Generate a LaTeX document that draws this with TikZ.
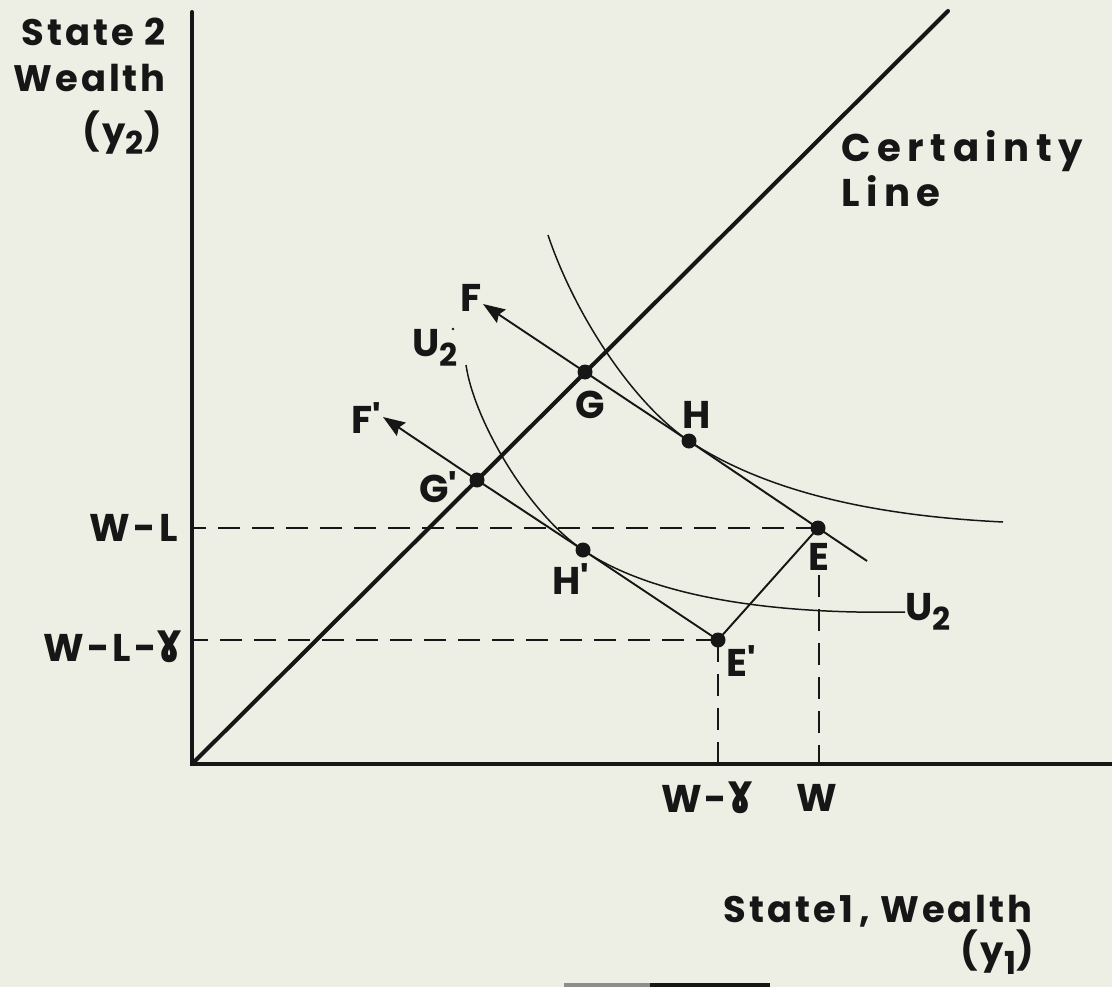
\documentclass[tikz,border=0pt]{standalone}
\usepackage{fontspec}
\usepackage{graphicx}
\setmainfont{Poppins}[LetterSpace=8]
\newfontfamily\dv{DejaVu Sans}
\usetikzlibrary{arrows.meta}
\definecolor{paper}{RGB}{237,239,228}
\definecolor{ink}{RGB}{22,22,22}
\newcommand{\gam}{\raisebox{0pt}{\scalebox{1.05}[1.45]{\dv\bfseries ɤ}}}
\newcommand{\prm}{\textquotesingle}
\newcommand{\sbs}[1]{\raisebox{-0.28em}{\fontsize{18}{18}\selectfont #1}}
\begin{document}
\begin{tikzpicture}[x=0.02cm,y=-0.02cm,
  axisline/.style={line width=2.3pt, draw=ink, line cap=round},
  budget/.style={line width=1.1pt, draw=ink},
  icurve/.style={line width=0.85pt, draw=ink},
  guide/.style={line width=0.9pt, draw=ink, dash pattern=on 0.44cm off 0.24cm},
  dotpt/.style={circle, fill=ink, inner sep=0pt, minimum size=0.3cm},
  lbl/.style={font=\fontsize{22}{26}\selectfont\bfseries, inner sep=0pt, text=ink},
  axlbl/.style={font=\fontsize{21}{26}\selectfont\bfseries, inner sep=0pt, text=ink},
  arr/.style={-{Stealth[length=0.44cm,width=0.32cm,inset=0.06cm]}}
]
\fill[paper] (0,0) rectangle (1112,987);
\useasboundingbox (0,0) rectangle (1112,987);

% axes
\coordinate (O) at (192,764);
\coordinate (ytop) at (192,12);
\coordinate (xend) at (1112,764);
\coordinate (cend) at (948,11);
\draw[axisline] (ytop) -- (O) -- (xend);
\draw[axisline] (O) -- (cend);

% points
\node[dotpt] (G) at (585,372) {};
\node[dotpt] (Gp) at (477,480) {};
\node[dotpt] (H) at (689,441) {};
\node[dotpt] (E) at (818,528) {};
\node[dotpt] (Hp) at (583,550) {};
\node[dotpt] (Ep) at (718,640) {};
\coordinate (Ftip) at (483,304);
\coordinate (Fend) at (867,561);
\coordinate (Fptip) at (383,417);

% labels
\node[lbl] (Flbl) at (471,298) {F};
\node[lbl] (Fplbl) at (366,418) {F\prm};
\node[lbl] (Glbl) at (590,405) {G};
\node[lbl] (Gplbl) at (438,487) {G\prm};
\node[lbl] (Hlbl) at (697,415) {H};
\node[lbl] (Hplbl) at (571,579) {H\prm};
\node[lbl] (Elbl) at (819,557) {E};
\node[lbl] (Eplbl) at (741,661) {E\prm};
\node[lbl, anchor=west] (U2lbl) at (905,612) {U\sbs{2}};
\node[lbl, anchor=west] (U2plbl) at (412,348) {U\sbs{2}};
\fill[ink] (453,329) circle (1.4);

\node[lbl, anchor=north west, align=left, font=\fontsize{22}{26}\selectfont\bfseries\addfontfeatures{LetterSpace=17}] (cert) at (841,130) {Certainty\\Line};

\node[axlbl, anchor=north east, align=right] (ylab) at (166,18) {State 2\\Wealth};
\node[axlbl, anchor=north east] (ylab2) at (162,110) {(y\sbs{2})};

\node[lbl, anchor=east] (WL) at (178,528) {W-L};
\node[lbl, anchor=east] (WLg) at (183,647) {W-L-\gam};
\node[lbl] (Wg) at (707,798) {W-\gam};
\node[lbl] (W) at (817,798) {W};

\node[axlbl, anchor=east] (xlab) at (1033,911) {State1\,, Wealth};
\node[axlbl, anchor=east] (xlab2) at (1034,952) {(y\sbs{1})};

% guide lines
\draw[guide] (E.center) -- (E.center -| O);
\draw[guide] (Ep.center) -- (Ep.center -| O);
\draw[guide] (Elbl.south) ++(0,4) -- (Elbl.south |- O);
\draw[guide] (Ep.center) -- (Ep.center |- O);

% budget lines
\draw[budget, arr] (Fend) -- (E.center) -- (H.center) -- (G.center) -- (Ftip);
\draw[budget, arr] (Ep.center) -- (Hp.center) -- (Gp.center) -- (Fptip);
\draw[budget] (E.center) -- (Ep.center);

% indifference curves
\coordinate (U1s) at (548,235);
\coordinate (U1e) at (1003,522);
\draw[icurve] (U1s) .. controls (573,310) and (630,401) .. (H.center)
  .. controls (770,494) and (880,516) .. (U1e);
\coordinate (U2s) at (466,365);
\draw[icurve] (U2s) .. controls (474,420) and (528,513) .. (Hp.center)
  .. controls (663,604) and (800,614) .. (U2lbl.west);

% scan rule at bottom
\draw[line width=2pt, draw=black!45] (564,985) -- (650,985);
\draw[line width=2pt, draw=ink] (650,985) -- (770,985);
\end{tikzpicture}
\end{document}
